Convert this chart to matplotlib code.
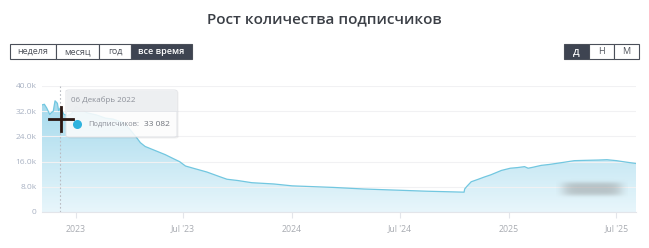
import matplotlib
matplotlib.use("Agg")
import matplotlib.pyplot as plt
import matplotlib.dates as mdates
from matplotlib.patches import Rectangle, FancyBboxPatch
import numpy as np
import datetime as dt

# ---------------- data ----------------
dates = [
    "2022-11-05", "2022-11-09", "2022-11-13", "2022-11-18", "2022-11-21", "2022-11-24",
    "2022-11-27", "2022-12-01", "2022-12-03", "2022-12-06", "2022-12-12", "2022-12-18",
    "2022-12-25", "2023-01-01", "2023-01-08", "2023-01-20", "2023-02-05", "2023-02-20",
    "2023-03-05", "2023-03-20", "2023-04-01", "2023-04-12", "2023-04-20", "2023-04-28",
    "2023-05-15", "2023-06-01", "2023-06-15", "2023-06-25", "2023-07-05", "2023-07-20",
    "2023-08-10", "2023-09-01", "2023-09-13", "2023-10-01", "2023-10-25", "2023-12-01",
    "2024-01-01", "2024-03-11", "2024-05-01", "2024-07-01", "2024-08-15", "2024-10-17",
    "2024-10-18", "2024-10-22", "2024-10-29", "2024-11-10", "2024-11-20", "2024-12-01",
    "2024-12-19", "2025-01-03", "2025-01-15", "2025-01-27", "2025-02-02", "2025-02-10",
    "2025-02-24", "2025-03-10", "2025-04-04", "2025-04-21", "2025-05-10", "2025-06-01",
    "2025-06-15", "2025-07-01", "2025-07-15", "2025-08-03",
]
subscribers = [
    34000, 34200, 33000, 31000, 31600, 32000,
    35300, 34500, 32200, 33082, 31000, 30600,
    31200, 33500, 33000, 31500, 30800, 29800,
    29500, 28500, 26500, 24000, 22000, 20800,
    19500, 18200, 16900, 16000, 14600, 13800,
    12700, 11200, 10400, 10000, 9300, 8900,
    8300, 7800, 7300, 6900, 6600, 6300,
    7300, 8200, 9600, 10400, 11100, 11800,
    13200, 13900, 14100, 14400, 13900, 14200,
    14800, 15100, 15800, 16300, 16400, 16500,
    16600, 16300, 15900, 15400,
]
y_ticks = [0, 8000, 16000, 24000, 32000, 40000]
y_tick_labels = ["0", "8.0k", "16.0k", "24.0k", "32.0k", "40.0k"]
x_ticks = ["2023-01-01", "2023-07-01", "2024-01-01", "2024-07-01", "2025-01-01", "2025-07-01"]
x_tick_labels = ["2023", "Jul '23", "2024", "Jul '24", "2025", "Jul '25"]
title = "Рост количества подписчиков"
period_buttons = ["неделя", "месяц", "год", "все время"]
scale_buttons = ["Д", "Н", "М"]
tooltip_date = "06 Декабрь 2022"
tooltip_label = "Подписчиков:"
tooltip_value = "33 082"
tooltip_x = "2022-12-06"

# ---------------- figure ----------------
plt.rcParams['font.family'] = ['Open Sans', 'DejaVu Sans']
W, H = 649, 248
fig = plt.figure(figsize=(W / 100, H / 100), dpi=100)
fig.patch.set_facecolor("white")

def fx(x):
    return x / W

def fy(y):
    return 1 - y / H

x = [mdates.date2num(dt.date.fromisoformat(d)) for d in dates]
ax = fig.add_axes([fx(42), fy(212), fx(636) - fx(42), fy(86) - fy(212)])
ax.set_xlim(mdates.date2num(dt.date(2022, 11, 5)), mdates.date2num(dt.date(2025, 8, 3)))
ax.set_ylim(0, 40000)

line_c = "#72c7e0"
poly = ax.fill_between(x, subscribers, 0, color="none", lw=0)
# gradient fill
grad = np.linspace(0, 1, 256).reshape(-1, 1)
top = np.array([0.64, 0.85, 0.925])
bot = np.array([0.91, 0.965, 0.985])
img = top[None, None, :] * (1 - grad[:, :, None]) + bot[None, None, :] * grad[:, :, None]
im = ax.imshow(img, aspect="auto", extent=[ax.get_xlim()[0], ax.get_xlim()[1], 0, 36000],
               origin="upper", zorder=1)
path = poly.get_paths()[0]
im.set_clip_path(path, transform=ax.transData)
ax.plot(x, subscribers, color=line_c, lw=0.9, zorder=3)

ax.set_yticks(y_ticks)
ax.set_yticklabels(y_tick_labels)
ax.set_xticks([mdates.date2num(dt.date.fromisoformat(d)) for d in x_ticks])
ax.set_xticklabels(x_tick_labels)
ax.grid(axis="y", color="#f1f1f3", lw=0.8, zorder=0)
for s in ["top", "right", "left"]:
    ax.spines[s].set_visible(False)
ax.spines["bottom"].set_color("#e3e5ea")
ax.spines["bottom"].set_zorder(4)
ax.tick_params(axis="y", length=0, pad=4, labelsize=6, labelcolor="#a9b2c3")
ax.tick_params(axis="x", length=4, color="#e3e5ea", pad=5, labelsize=6.3, labelcolor="#a9acb2")

# dashed crosshair line
tx = mdates.date2num(dt.date.fromisoformat(tooltip_x))
ax.axvline(tx, color="#b9bcc2", lw=0.8, ls=(0, (1.5, 2)), zorder=5)

# blurred watermark blob
yy, xx = np.mgrid[0:40, 0:140]
blob = np.exp(-(((xx - 70) / 58) ** 6) - (((yy - 20) / 11) ** 4))
rgba = np.zeros((40, 140, 4))
rgba[..., :3] = 0.55
rgba[..., 3] = blob * 0.45
wax = fig.add_axes([fx(556), fy(201), fx(72), fy(176) - fy(201)])
wax.imshow(rgba, aspect="auto", interpolation="bicubic")
wax.axis("off")

# ---------------- title ----------------
fig.text(0.5, fy(19), title, ha="center", va="center", fontsize=11, fontweight="semibold",
         color="#3b3f46")

# ---------------- buttons ----------------
def buttons(labels, xs, y0, y1, active):
    for i, lab in enumerate(labels):
        x0, x1 = xs[i], xs[i + 1]
        on = (i == active)
        r = Rectangle((fx(x0), fy(y1)), fx(x1) - fx(x0), fy(y0) - fy(y1), transform=fig.transFigure,
                      facecolor="#3e4451" if on else "white", edgecolor="#4a4f59", lw=0.8)
        fig.patches.append(r)
        fig.text(fx((x0 + x1) / 2), fy((y0 + y1) / 2), lab, ha="center", va="center",
                 fontsize=6.5, color="white" if on else "#50545c",
                 fontweight="semibold" if on else "normal")

buttons(period_buttons, [10, 56, 99, 131, 192], 44, 59, 3)
buttons(scale_buttons, [564, 589, 614, 639], 44, 59, 0)

# ---------------- tooltip ----------------
shadow = FancyBboxPatch((fx(67.5), fy(138.5)), fx(111), fy(91) - fy(138.5), boxstyle="round,pad=0,rounding_size=0.005",
                        transform=fig.transFigure, facecolor="#000000", alpha=0.06, edgecolor="none", zorder=7)
fig.patches.append(shadow)
box = FancyBboxPatch((fx(66), fy(137)), fx(111), fy(90) - fy(137), boxstyle="round,pad=0,rounding_size=0.005",
                     transform=fig.transFigure, facecolor="white", alpha=0.86, edgecolor="#dfe1e5", lw=0.8, zorder=8)
fig.patches.append(box)
hdr = Rectangle((fx(66.5), fy(111)), fx(110), fy(90.5) - fy(111), transform=fig.transFigure,
                facecolor="#eceef0", alpha=0.9, edgecolor="none", zorder=9)
fig.patches.append(hdr)
fig.add_artist(plt.Line2D([fx(66.5), fx(176.5)], [fy(111), fy(111)], transform=fig.transFigure,
                          color="#e2e4e8", lw=0.6, zorder=9))
fig.text(fx(71), fy(100.5), tooltip_date, ha="left", va="center", fontsize=5.8, color="#8c9099", zorder=10)
fig.add_artist(plt.Line2D([fx(77)], [fy(124)], transform=fig.transFigure, marker="o", markersize=6.5,
                          markerfacecolor="#2fb3de", markeredgecolor="none", lw=0, zorder=10))
fig.text(fx(88), fy(124), tooltip_label, ha="left", va="center", fontsize=5.4, color="#8c9099", zorder=10)
fig.text(fx(144), fy(124), tooltip_value, ha="left", va="center", fontsize=6.0, color="#6f737b", zorder=10)

# mouse cursor cross
fig.add_artist(plt.Line2D([fx(61), fx(61)], [fy(107), fy(131)], transform=fig.transFigure,
                          color="#2b1712", lw=2.0, zorder=11))
fig.add_artist(plt.Line2D([fx(48.5), fx(73)], [fy(119), fy(119)], transform=fig.transFigure,
                          color="#2b1712", lw=2.0, zorder=11))

fig.savefig("out.png", dpi=100, facecolor="white")
